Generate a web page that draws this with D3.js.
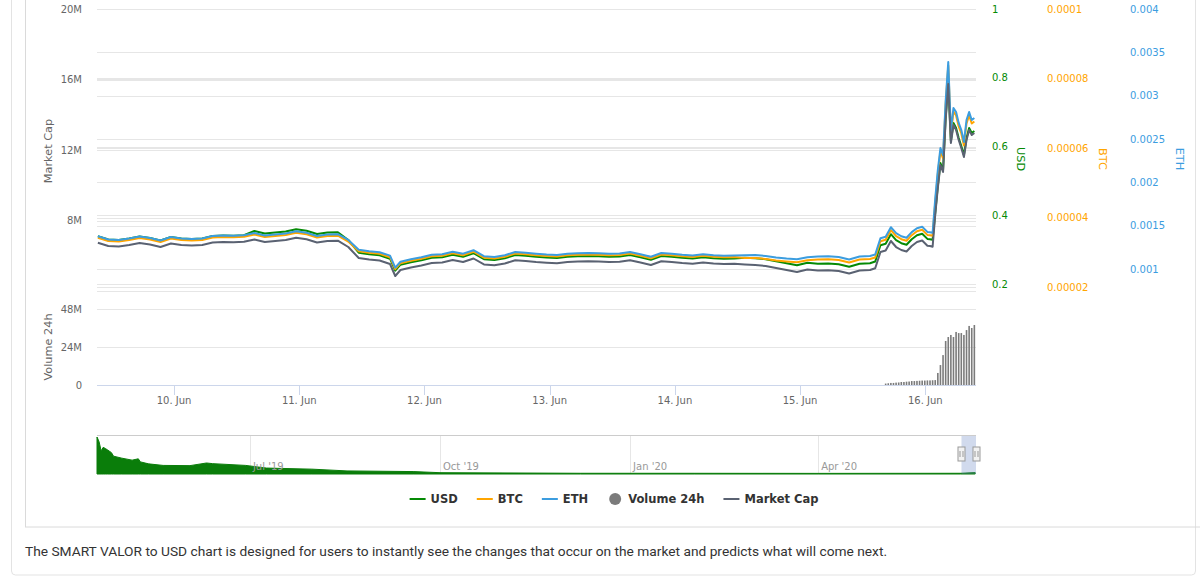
<!DOCTYPE html>
<html>
<head>
<meta charset="utf-8">
<script src="https://cdn.jsdelivr.net/npm/d3@7"></script>
<style>
  html, body { margin: 0; padding: 0; background: #fff; }
  svg { display: block; }
</style>
</head>
<body>
<svg id="chart" width="1200" height="582"></svg>
<script>
// sample times, hours after 9 Jun 2020 00:00 UTC
const hours = [9.4, 11.4, 13.4, 15.4, 17.4, 19.4, 21.4, 23.4, 25.4, 27.4, 29.4, 31.4, 33.4, 35.4, 37.4,
  39.4, 41.4, 43.4, 45.4, 47.4, 49.4, 51.4, 53.4, 55.4, 57.4, 59.4, 61.4, 63.4, 65.4, 66.4, 67.4, 69.4,
  71.4, 73.4, 75.4, 77.4, 79.4, 81.4, 83.4, 85.4, 87.4, 89.4, 91.4, 93.4, 95.4, 97.4, 99.4, 101.4, 103.4,
  105.4, 107.4, 109.4, 111.4, 113.4, 115.4, 117.4, 119.4, 121.4, 123.4, 125.4, 127.4, 129.4, 131.4, 133.4,
  135.4, 137.4, 139.4, 141.4, 143.4, 145.4, 147.4, 149.4, 151.4, 153.4, 155.4, 157.4, 158.4, 159.4, 160.4,
  161.4, 162.4, 163.4, 164.4, 165.4, 166.4, 167.4, 168.4, 168.9, 169.4, 169.9, 170.4, 170.9, 171.4, 171.9,
  172.4, 172.9, 173.4, 173.9, 174.4, 174.9, 175.4, 175.9, 176.4, 176.9, 177.4];

const usd = [0.3391, 0.3295, 0.3280, 0.3324, 0.3382, 0.3338, 0.3265, 0.3367, 0.3324, 0.3309, 0.3326, 0.3396,
  0.3411, 0.3402, 0.3417, 0.3542, 0.3469, 0.3498, 0.3527, 0.3594, 0.3548, 0.3455, 0.3498, 0.3507, 0.3280,
  0.2911, 0.2867, 0.2838, 0.2736, 0.2387, 0.2561, 0.2634, 0.2692, 0.2765, 0.2780, 0.2852, 0.2794, 0.2896,
  0.2721, 0.2698, 0.2751, 0.2844, 0.2823, 0.2794, 0.2774, 0.2756, 0.2794, 0.2809, 0.2815, 0.2809, 0.2794,
  0.2800, 0.2844, 0.2780, 0.2707, 0.2815, 0.2794, 0.2765, 0.2745, 0.2780, 0.2751, 0.2736, 0.2742, 0.2765,
  0.2751, 0.2721, 0.2663, 0.2605, 0.2547, 0.2620, 0.2591, 0.2599, 0.2576, 0.2503, 0.2591, 0.2605, 0.2655,
  0.3129, 0.3172, 0.3449, 0.3274, 0.3187, 0.3143, 0.3303, 0.3420, 0.3463, 0.3312, 0.3303, 0.3283, 0.4066,
  0.4851, 0.5520, 0.5316, 0.6829, 0.7876, 0.6160, 0.6684, 0.6538, 0.6247, 0.6015, 0.5753, 0.6247, 0.6538,
  0.6393, 0.6451];

const btc = [3.419e-5, 3.324e-5, 3.309e-5, 3.353e-5, 3.410e-5, 3.367e-5, 3.295e-5, 3.396e-5, 3.353e-5,
  3.338e-5, 3.355e-5, 3.425e-5, 3.439e-5, 3.430e-5, 3.445e-5, 3.511e-5, 3.439e-5, 3.468e-5, 3.496e-5,
  3.563e-5, 3.517e-5, 3.425e-5, 3.468e-5, 3.476e-5, 3.309e-5, 3.030e-5, 2.987e-5, 2.958e-5, 2.858e-5,
  2.512e-5, 2.685e-5, 2.757e-5, 2.814e-5, 2.886e-5, 2.901e-5, 2.973e-5, 2.915e-5, 3.016e-5, 2.843e-5,
  2.820e-5, 2.872e-5, 2.964e-5, 2.944e-5, 2.915e-5, 2.895e-5, 2.878e-5, 2.915e-5, 2.930e-5, 2.935e-5,
  2.930e-5, 2.915e-5, 2.921e-5, 2.964e-5, 2.901e-5, 2.829e-5, 2.935e-5, 2.915e-5, 2.886e-5, 2.866e-5,
  2.901e-5, 2.872e-5, 2.858e-5, 2.863e-5, 2.832e-5, 2.835e-5, 2.806e-5, 2.763e-5, 2.734e-5, 2.711e-5,
  2.771e-5, 2.791e-5, 2.800e-5, 2.777e-5, 2.705e-5, 2.791e-5, 2.806e-5, 2.849e-5, 3.318e-5, 3.361e-5,
  3.635e-5, 3.462e-5, 3.376e-5, 3.332e-5, 3.491e-5, 3.606e-5, 3.649e-5, 3.499e-5, 3.491e-5, 3.471e-5,
  4.432e-5, 5.266e-5, 5.899e-5, 5.698e-5, 7.252e-5, 8.374e-5, 6.389e-5, 7.050e-5, 6.935e-5, 6.619e-5,
  6.417e-5, 6.072e-5, 6.705e-5, 6.935e-5, 6.705e-5, 6.763e-5];

const eth = [1.378e-3, 1.340e-3, 1.335e-3, 1.352e-3, 1.375e-3, 1.358e-3, 1.329e-3, 1.369e-3, 1.352e-3,
  1.346e-3, 1.353e-3, 1.381e-3, 1.387e-3, 1.383e-3, 1.389e-3, 1.415e-3, 1.387e-3, 1.398e-3, 1.410e-3,
  1.436e-3, 1.418e-3, 1.381e-3, 1.398e-3, 1.402e-3, 1.335e-3, 1.223e-3, 1.205e-3, 1.194e-3, 1.154e-3,
  1.015e-3, 1.084e-3, 1.113e-3, 1.136e-3, 1.165e-3, 1.171e-3, 1.200e-3, 1.177e-3, 1.217e-3, 1.148e-3,
  1.139e-3, 1.159e-3, 1.196e-3, 1.188e-3, 1.177e-3, 1.168e-3, 1.162e-3, 1.177e-3, 1.182e-3, 1.185e-3,
  1.182e-3, 1.177e-3, 1.179e-3, 1.196e-3, 1.171e-3, 1.142e-3, 1.185e-3, 1.177e-3, 1.165e-3, 1.157e-3,
  1.171e-3, 1.159e-3, 1.154e-3, 1.156e-3, 1.160e-3, 1.162e-3, 1.150e-3, 1.133e-3, 1.121e-3, 1.112e-3,
  1.136e-3, 1.144e-3, 1.148e-3, 1.139e-3, 1.110e-3, 1.144e-3, 1.150e-3, 1.167e-3, 1.355e-3, 1.373e-3,
  1.482e-3, 1.413e-3, 1.378e-3, 1.361e-3, 1.425e-3, 1.471e-3, 1.488e-3, 1.428e-3, 1.425e-3, 1.417e-3,
  1.808e-3, 2.142e-3, 2.396e-3, 2.315e-3, 2.938e-3, 3.388e-3, 2.592e-3, 2.858e-3, 2.812e-3, 2.685e-3,
  2.604e-3, 2.465e-3, 2.719e-3, 2.812e-3, 2.719e-3, 2.742e-3];

const marketCap = [6.740e6, 6.553e6, 6.525e6, 6.610e6, 6.723e6, 6.638e6, 6.496e6, 6.695e6, 6.610e6,
  6.582e6, 6.615e6, 6.752e6, 6.780e6, 6.763e6, 6.792e6, 6.922e6, 6.780e6, 6.837e6, 6.894e6, 7.024e6,
  6.933e6, 6.752e6, 6.837e6, 6.854e6, 6.496e6, 5.872e6, 5.787e6, 5.731e6, 5.532e6, 4.851e6, 5.192e6,
  5.333e6, 5.447e6, 5.589e6, 5.617e6, 5.759e6, 5.645e6, 5.844e6, 5.504e6, 5.458e6, 5.560e6, 5.742e6,
  5.702e6, 5.645e6, 5.606e6, 5.572e6, 5.645e6, 5.674e6, 5.685e6, 5.674e6, 5.645e6, 5.657e6, 5.742e6,
  5.617e6, 5.475e6, 5.685e6, 5.645e6, 5.589e6, 5.549e6, 5.617e6, 5.560e6, 5.532e6, 5.543e6, 5.504e6,
  5.475e6, 5.418e6, 5.305e6, 5.192e6, 5.078e6, 5.220e6, 5.163e6, 5.180e6, 5.135e6, 4.993e6, 5.163e6,
  5.192e6, 5.288e6, 6.213e6, 6.298e6, 6.837e6, 6.496e6, 6.326e6, 6.241e6, 6.553e6, 6.780e6, 6.865e6,
  6.570e6, 6.553e6, 6.513e6, 8.312e6, 9.844e6, 11.149e6, 10.752e6, 13.702e6, 15.745e6, 12.397e6,
  13.419e6, 13.135e6, 12.567e6, 12.114e6, 11.603e6, 12.567e6, 13.135e6, 12.851e6, 12.965e6];

// 24h volume, half-hourly bars on the last day
const volumeHours = [160.4, 160.9, 161.4, 161.9, 162.4, 162.9, 163.4, 163.9, 164.4, 164.9, 165.4, 165.9,
  166.4, 166.9, 167.4, 167.9, 168.4, 168.9, 169.4, 169.9, 170.4, 170.9, 171.4, 171.9, 172.4, 172.9, 173.4,
  173.9, 174.4, 174.9, 175.4, 175.9, 176.4, 176.9, 177.4];
const volume = [0.9e6, 1.1e6, 1.3e6, 1.3e6, 1.5e6, 1.6e6, 1.9e6, 1.9e6, 2.1e6, 2.2e6, 2.5e6, 2.5e6, 2.6e6,
  2.7e6, 2.8e6, 2.8e6, 2.9e6, 2.9e6, 3.0e6, 3.1e6, 7.6e6, 12.6e6, 18.9e6, 27.8e6, 30.3e6, 31.6e6, 30.3e6,
  33.5e6, 32.8e6, 32.8e6, 31.6e6, 34.7e6, 37.3e6, 36.0e6, 37.9e6];

// navigator (full history, USD)
const navDates = ["2019-04-18", "2019-04-19", "2019-04-20", "2019-04-21", "2019-04-22", "2019-04-23",
  "2019-04-25", "2019-04-26", "2019-04-30", "2019-05-05", "2019-05-08", "2019-05-09", "2019-05-13",
  "2019-05-20", "2019-06-02", "2019-06-10", "2019-06-13", "2019-06-29", "2019-07-09", "2019-07-31",
  "2019-08-17", "2019-09-18", "2019-10-01", "2019-12-08", "2020-02-01", "2020-04-01", "2020-06-09",
  "2020-06-16"];
const navUsd = [16.8, 14.7, 10.5, 12.1, 11.6, 11.0, 9.7, 8.1, 7.2, 6.3, 6.9, 5.5, 4.6, 3.9, 3.8, 5.0, 4.7,
  3.9, 2.7, 2.2, 1.4, 1.1, 0.6, 0.33, 0.32, 0.28, 0.33, 0.65];

// axis ticks
const mcTicks = [4e6, 8e6, 12e6, 16e6, 20e6];
const mcLabels = ["", "8M", "12M", "16M", "20M"];
const volTicks = [0, 24e6, 48e6];
const volLabels = ["0", "24M", "48M"];
const usdTicks = [0.2, 0.4, 0.6, 0.8, 1];
const btcTicks = [2e-5, 4e-5, 6e-5, 8e-5, 1e-4];
const ethTicks = [0.001, 0.0015, 0.002, 0.0025, 0.003, 0.0035, 0.004];

const colors = {
  usd: "#058a05",
  btc: "#ffa500",
  eth: "#3c9ddf",
  volume: "#7b7b7b",
  marketCap: "#5a6272",
};

const font = "DejaVu Sans, sans-serif";

function drawChart(svgElement) {
  const svg = d3.select(svgElement);
  svg.selectAll("*").remove();

  const left = 97, right = 976;
  const day0 = Date.UTC(2020, 5, 9);
  const toDate = (h) => new Date(day0 + h * 3600e3);

  // page frame
  svg.append("rect")
    .attr("x", 11.5).attr("y", -6).attr("width", 1184).attr("height", 581)
    .attr("rx", 4)
    .attr("fill", "#fff").attr("stroke", "#e3e3e3");
  svg.append("rect")
    .attr("x", 25.5).attr("y", -6).attr("width", 1200).attr("height", 533)
    .attr("fill", "none").attr("stroke", "#dadada");

  const x = d3.scaleUtc()
    .domain([Date.UTC(2020, 5, 9, 9, 14), Date.UTC(2020, 5, 16, 9, 43)])
    .range([left, right]);

  const yMc = d3.scaleLinear().domain([4e6, 20e6]).range([291, 9]);
  const yUsd = d3.scaleLinear().domain([0.2, 1]).range([284, 9]);
  const yBtc = d3.scaleLinear().domain([2e-5, 1e-4]).range([287, 9]);
  const yEth = d3.scaleLinear().domain([0.001, 0.004]).range([269, 9]);
  const yVol = d3.scaleLinear().domain([0, 48e6]).range([385, 309]);

  const grid = svg.append("g").attr("stroke", "#e6e6e6").attr("shape-rendering", "crispEdges");
  const hline = (y) => grid.append("line")
    .attr("x1", left).attr("x2", right)
    .attr("y1", Math.round(y) + 0.5).attr("y2", Math.round(y) + 0.5);
  mcTicks.forEach((t) => hline(yMc(t)));
  usdTicks.forEach((t) => hline(yUsd(t)));
  btcTicks.forEach((t) => hline(yBtc(t)));
  ethTicks.forEach((t) => hline(yEth(t)));
  volTicks.slice(1).forEach((t) => hline(yVol(t)));

  // left axis labels
  const leftLabels = svg.append("g")
    .attr("font-family", font).attr("font-size", 10).attr("fill", "#666")
    .attr("text-anchor", "end");
  mcTicks.forEach((t, i) => leftLabels.append("text")
    .attr("x", 82).attr("y", yMc(t)).attr("dy", "0.35em").text(mcLabels[i]));
  volTicks.forEach((t, i) => leftLabels.append("text")
    .attr("x", 82).attr("y", yVol(t)).attr("dy", "0.35em").text(volLabels[i]));

  // right axes
  const rightAxis = (ticks, scale, xPos, color, fmt) => {
    const g = svg.append("g")
      .attr("font-family", font).attr("font-size", 10).attr("fill", color);
    ticks.forEach((t) => g.append("text")
      .attr("x", xPos).attr("y", scale(t)).attr("dy", "0.35em").text(fmt(t)));
  };
  rightAxis(usdTicks, yUsd, 992, colors.usd, (d) => String(+d.toFixed(1)));
  rightAxis(btcTicks, yBtc, 1047, colors.btc, (d) => String(+d.toFixed(5)));
  rightAxis(ethTicks, yEth, 1130, colors.eth, (d) => String(+d.toFixed(4)));

  // axis titles
  const title = (txt, tx, ty, rot, color) => svg.append("text")
    .attr("transform", `translate(${tx},${ty}) rotate(${rot})`)
    .attr("text-anchor", "middle").attr("dy", "0.35em")
    .attr("font-family", font).attr("font-size", 11.3).attr("fill", color)
    .text(txt);
  title("Market Cap", 48, 151, -90, "#666");
  title("Volume 24h", 48, 347, -90, "#666");
  title("USD", 1021, 159, 90, colors.usd);
  title("BTC", 1103, 159, 90, colors.btc);
  title("ETH", 1180, 159, 90, colors.eth);

  // x axis
  svg.append("line")
    .attr("x1", left).attr("x2", right).attr("y1", 385.5).attr("y2", 385.5)
    .attr("stroke", "#ccd6eb");
  const days = d3.utcDay.range(Date.UTC(2020, 5, 10), Date.UTC(2020, 5, 16, 1));
  const xAxis = svg.append("g");
  days.forEach((d) => {
    const px = Math.round(x(d)) + 0.5;
    xAxis.append("line")
      .attr("x1", px).attr("x2", px).attr("y1", 386).attr("y2", 395)
      .attr("stroke", "#ccd6eb");
    xAxis.append("text")
      .attr("x", x(d)).attr("y", 404)
      .attr("text-anchor", "middle")
      .attr("font-family", font).attr("font-size", 10).attr("fill", "#666")
      .text(d3.utcFormat("%-d. %b")(d));
  });

  const series = hours.map((h, i) => ({
    t: toDate(h), usd: usd[i], btc: btc[i], eth: eth[i], mc: marketCap[i],
  }));

  const drawLine = (key, scale, color) => svg.append("path")
    .datum(series)
    .attr("fill", "none")
    .attr("stroke", color)
    .attr("stroke-width", 2)
    .attr("stroke-linejoin", "round")
    .attr("d", d3.line().x((d) => x(d.t)).y((d) => scale(d[key])));

  drawLine("usd", yUsd, colors.usd);
  drawLine("btc", yBtc, colors.btc);
  drawLine("eth", yEth, colors.eth);

  // volume columns
  svg.append("g")
    .selectAll("rect")
    .data(volumeHours.map((h, i) => ({ t: toDate(h), v: volume[i] })))
    .join("rect")
    .attr("x", (d) => x(d.t) - 0.8)
    .attr("width", 1.6)
    .attr("y", (d) => yVol(d.v))
    .attr("height", (d) => yVol(0) - yVol(d.v))
    .attr("fill", colors.volume);

  drawLine("mc", yMc, colors.marketCap);

  // navigator
  const navData = navDates.map((d, i) => ({ t: new Date(d + "T00:00:00Z"), v: navUsd[i] }));
  const nx = d3.scaleUtc()
    .domain([Date.UTC(2019, 3, 18), Date.UTC(2020, 5, 16, 9, 43)])
    .range([left, right]);
  const ny = d3.scaleLinear().domain([0, d3.max(navUsd)]).range([474, 437]);

  const navTicks = d3.utcMonth.every(3).range(nx.domain()[0], nx.domain()[1]);
  navTicks.forEach((d) => {
    const px = Math.round(nx(d)) + 0.5;
    svg.append("line")
      .attr("x1", px).attr("x2", px).attr("y1", 435).attr("y2", 474)
      .attr("stroke", "#e6e6e6");
  });

  svg.append("path")
    .datum(navData)
    .attr("fill", "#0a7d0a")
    .attr("stroke", "#0a7d0a")
    .attr("stroke-width", 1)
    .attr("d", d3.area().x((d) => nx(d.t)).y0(474).y1((d) => ny(d.v)));

  navTicks.forEach((d) => {
    svg.append("text")
      .attr("x", nx(d) + 3).attr("y", 470)
      .attr("font-family", font).attr("font-size", 10).attr("fill", "#999")
      .text(d3.utcFormat("%b '%y")(d));
  });

  svg.append("line")
    .attr("x1", left).attr("x2", right).attr("y1", 435.5).attr("y2", 435.5)
    .attr("stroke", "#cccccc");

  const [selA, selB] = x.domain().map((d) => nx(d));
  svg.append("rect")
    .attr("x", selA).attr("y", 436).attr("width", selB - selA).attr("height", 38)
    .attr("fill", "rgba(102,133,194,0.3)");

  [selA, selB].forEach((hx) => {
    const g = svg.append("g").attr("transform", `translate(${Math.round(hx) + 0.5},447)`);
    g.append("rect")
      .attr("x", -3.5).attr("y", 0).attr("width", 7).attr("height", 14)
      .attr("fill", "#f2f2f2").attr("stroke", "#999");
    [-1.5, 1.5].forEach((o) => g.append("line")
      .attr("x1", o).attr("x2", o).attr("y1", 4).attr("y2", 10)
      .attr("stroke", "#999"));
  });

  // legend
  const legendItems = [
    { name: "USD", color: colors.usd, symbol: "line" },
    { name: "BTC", color: colors.btc, symbol: "line" },
    { name: "ETH", color: colors.eth, symbol: "line" },
    { name: "Volume 24h", color: colors.volume, symbol: "circle" },
    { name: "Market Cap", color: colors.marketCap, symbol: "line" },
  ];
  const legend = svg.append("g");
  const items = legendItems.map((it) => {
    const g = legend.append("g");
    if (it.symbol === "line") {
      g.append("rect").attr("x", 0).attr("y", -1).attr("width", 16).attr("height", 2)
        .attr("fill", it.color);
    } else {
      g.append("circle").attr("cx", 8).attr("cy", 0).attr("r", 6).attr("fill", it.color);
    }
    const t = g.append("text")
      .attr("x", 21).attr("y", 0).attr("dy", "0.35em")
      .attr("font-family", font).attr("font-size", 11.5).attr("font-weight", "bold")
      .attr("fill", "#333")
      .text(it.name);
    return { g, w: 21 + t.node().getComputedTextLength() };
  });
  const gap = 19;
  const total = d3.sum(items, (d) => d.w) + gap * (items.length - 1);
  let cx = 614 - total / 2;
  items.forEach((it) => {
    it.g.attr("transform", `translate(${cx},499)`);
    cx += it.w + gap;
  });

  svg.append("text")
    .attr("x", 25).attr("y", 556)
    .attr("font-family", "Roboto, sans-serif").attr("font-size", 13.5)
    .attr("fill", "#333")
    .attr("textLength", 862).attr("lengthAdjust", "spacingAndGlyphs")
    .text("The SMART VALOR to USD chart is designed for users to instantly see the changes that occur on the market and predicts what will come next.");
}

drawChart(document.getElementById("chart"));
</script>
</body>
</html>
